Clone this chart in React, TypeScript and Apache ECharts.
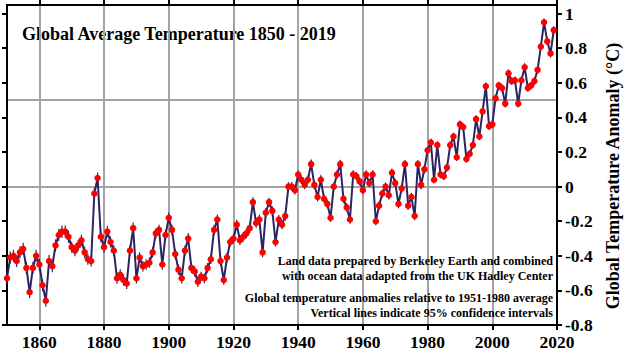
import React, { useEffect, useRef } from "react";
import * as echarts from "echarts";

// Annual global temperature anomaly (°C, relative to 1951-1980)
const t1850s = [-0.53, -0.41, -0.40, -0.43, -0.38, -0.36, -0.47, -0.61, -0.47, -0.40];
const t1860s = [-0.45, -0.57, -0.66, -0.43, -0.46, -0.34, -0.28, -0.26, -0.26, -0.29];
const t1870s = [-0.35, -0.37, -0.34, -0.31, -0.38, -0.42, -0.43, -0.04, 0.05, -0.29];
const t1880s = [-0.35, -0.26, -0.32, -0.37, -0.53, -0.51, -0.54, -0.56, -0.37, -0.24];
const t1890s = [-0.53, -0.41, -0.46, -0.45, -0.44, -0.38, -0.27, -0.25, -0.45, -0.28];
const t1900s = [-0.18, -0.25, -0.39, -0.48, -0.53, -0.37, -0.30, -0.47, -0.49, -0.55];
const t1910s = [-0.52, -0.53, -0.47, -0.42, -0.25, -0.19, -0.43, -0.54, -0.41, -0.32];
const t1920s = [-0.30, -0.22, -0.31, -0.29, -0.27, -0.24, -0.09, -0.21, -0.19, -0.38];
const t1930s = [-0.15, -0.09, -0.14, -0.32, -0.19, -0.22, -0.17, 0.0, 0.0, -0.02];
const t1940s = [0.07, 0.04, 0.01, 0.04, 0.13, 0.01, -0.06, 0.04, -0.07, -0.10];
const t1950s = [-0.18, 0.0, 0.07, 0.13, -0.07, -0.12, -0.19, 0.07, 0.06, 0.03];
const t1960s = [-0.02, 0.07, 0.02, 0.07, -0.20, -0.11, -0.04, 0.0, -0.05, 0.08];
const t1970s = [0.02, -0.10, -0.01, 0.13, -0.11, -0.06, -0.17, 0.13, 0.01, 0.10];
const t1980s = [0.21, 0.255, 0.04, 0.24, 0.07, 0.06, 0.11, 0.24, 0.29, 0.17];
const t1990s = [0.36, 0.345, 0.16, 0.19, 0.24, 0.39, 0.29, 0.435, 0.58, 0.35];
const t2000s = [0.36, 0.51, 0.585, 0.57, 0.48, 0.655, 0.61, 0.615, 0.48, 0.615];
const t2010s = [0.69, 0.57, 0.585, 0.61, 0.675, 0.81, 0.95, 0.84, 0.77, 0.905];

// 95% confidence half-width per decade (1850s ... 2010s)
const uncertaintyByDecade = [0.035, 0.035, 0.032, 0.032, 0.03, 0.03, 0.028, 0.028, 0.026, 0.025, 0.024, 0.024, 0.024, 0.022, 0.022, 0.022, 0.022];

const startYear = 1850;
const xTickYears = [1860, 1880, 1900, 1920, 1940, 1960, 1980, 2000, 2020];
const yTickValues = [-0.8, -0.6, -0.4, -0.2, 0, 0.2, 0.4, 0.6, 0.8, 1];
const gridYears = [1860, 1880, 1900, 1920, 1940, 1960, 1980, 2000];
const gridValues = [0, 0.5];

const title = "Global Average Temperature 1850 - 2019";
const yName = "Global Temperature Anomaly (\u00B0C)";
const notes = [
  "Land data prepared by Berkeley Earth and combined",
  "with ocean data adapted from the UK Hadley Center",
  "Global temperature anomalies relative to 1951-1980 average",
  "Vertical lines indicate 95% confidence intervals",
];

const NAVY = "#2a2463";
const RED = "#ff0000";
const GRID_GRAY = "#a3a3a3";
const FONT = "'Liberation Serif', 'Times New Roman', 'DejaVu Serif', serif";

export default function App() {
  const ref = useRef<HTMLDivElement>(null);

  useEffect(() => {
    if (!ref.current) return;
    const chart = echarts.init(ref.current, undefined, { renderer: "svg" });

    const temps = [
      ...t1850s, ...t1860s, ...t1870s, ...t1880s, ...t1890s, ...t1900s,
      ...t1910s, ...t1920s, ...t1930s, ...t1940s, ...t1950s, ...t1960s,
      ...t1970s, ...t1980s, ...t1990s, ...t2000s, ...t2010s,
    ];
    const lineData = temps.map((v, i) => [startYear + i, v]);
    const barData = temps.map((v, i) => {
      const u = uncertaintyByDecade[Math.floor(i / 10)];
      return [startYear + i, v - u, v + u];
    });

    const xFmt = (v: number) => (v % 20 === 0 ? String(v) : "");
    const yFmt = (v: number) =>
      Math.abs(v * 5 - Math.round(v * 5)) < 1e-6 ? String(parseFloat(v.toFixed(1))) : "";

    const axisLine = { show: true, onZero: false, lineStyle: { color: "#000", width: 2 } };
    const tick = (vals: number[]) => ({
      show: true,
      inside: false,
      length: 5,
      lineStyle: { color: "#000", width: 2 },
      customValues: vals,
    });
    const labelStyle = {
      color: "#000",
      fontFamily: FONT,
      fontWeight: "bold" as const,
      fontSize: 17.5,
    };

    const option: any = {
      animation: false,
      backgroundColor: "#fff",
      grid: { left: 7, right: 67, top: 5, bottom: 31, containLabel: false },
      xAxis: [
        {
          type: "value",
          position: "bottom",
          min: 1850,
          max: 2020,
          interval: 10,
          axisLine,
          axisTick: tick(xTickYears),
          axisLabel: { ...labelStyle, margin: 8, formatter: xFmt, customValues: xTickYears },
          splitLine: { show: false },
        },
        {
          type: "value",
          position: "top",
          min: 1850,
          max: 2020,
          interval: 10,
          axisLine,
          axisTick: tick(xTickYears),
          axisLabel: { show: false },
          splitLine: { show: false },
        },
      ],
      yAxis: [
        {
          type: "value",
          position: "right",
          min: -0.8,
          max: 1.05,
          interval: 0.2,
          axisLine,
          axisTick: tick(yTickValues),
          axisLabel: { ...labelStyle, margin: 8, formatter: yFmt, customValues: yTickValues },
          splitLine: { show: false },
        },
        {
          type: "value",
          position: "left",
          min: -0.8,
          max: 1.05,
          interval: 0.2,
          axisLine,
          axisTick: tick(yTickValues),
          axisLabel: { show: false },
          splitLine: { show: false },
        },
      ],
      series: [
        {
          type: "line",
          name: "grid",
          data: [],
          z: 0,
          silent: true,
          markLine: {
            z: 0,
            silent: true,
            symbol: ["none", "none"],
            label: { show: false },
            lineStyle: { color: GRID_GRAY, width: 2, type: "solid" },
            emphasis: { disabled: true },
            data: [
              ...gridYears.map((y) => ({ xAxis: y })),
              ...gridValues.map((v) => ({ yAxis: v })),
            ],
          },
        },
        {
          type: "custom",
          name: "ci",
          xAxisIndex: 0,
          yAxisIndex: 0,
          z: 3,
          silent: true,
          encode: { x: 0, y: [1, 2] },
          data: barData,
          renderItem: (params: any, api: any) => {
            const p1 = api.coord([api.value(0), api.value(1)]);
            const p2 = api.coord([api.value(0), api.value(2)]);
            return {
              type: "line",
              shape: { x1: p1[0], y1: p1[1], x2: p2[0], y2: p2[1] },
              style: { stroke: NAVY, lineWidth: 1.2 },
            };
          },
        },
        {
          type: "line",
          name: "temp",
          xAxisIndex: 0,
          yAxisIndex: 0,
          z: 4,
          data: lineData,
          symbol: "circle",
          symbolSize: 6.5,
          showAllSymbol: true,
          lineStyle: { color: NAVY, width: 2, join: "miter", miterLimit: 6 },
          itemStyle: { color: RED, borderWidth: 0 },
          emphasis: { disabled: true },
        },
      ],
      graphic: [
        {
          type: "text",
          x: 22,
          y: 34,
          style: {
            text: title,
            fill: "#000",
            font: `bold 18px ${FONT}`,
            textAlign: "left",
            textVerticalAlign: "middle",
          },
        },
        {
          type: "text",
          x: 613,
          y: 176,
          rotation: Math.PI / 2,
          style: {
            text: yName,
            fill: "#000",
            font: `bold 18px ${FONT}`,
            textAlign: "center",
            textVerticalAlign: "middle",
          },
        },
        ...notes.map((n, i) => ({
          type: "text",
          x: 553,
          y: [261, 276, 298, 312.5][i],
          z: 10,
          style: {
            text: n,
            fill: "#000",
            font: `bold 12px ${FONT}`,
            textAlign: "right",
            textVerticalAlign: "middle",
          },
        })),
      ],
    };

    chart.setOption(option);
    return () => chart.dispose();
  }, []);

  return (
    <div
      ref={ref}
      style={{ position: "fixed", left: 0, top: 0, width: 624, height: 356, background: "#fff" }}
    />
  );
}
